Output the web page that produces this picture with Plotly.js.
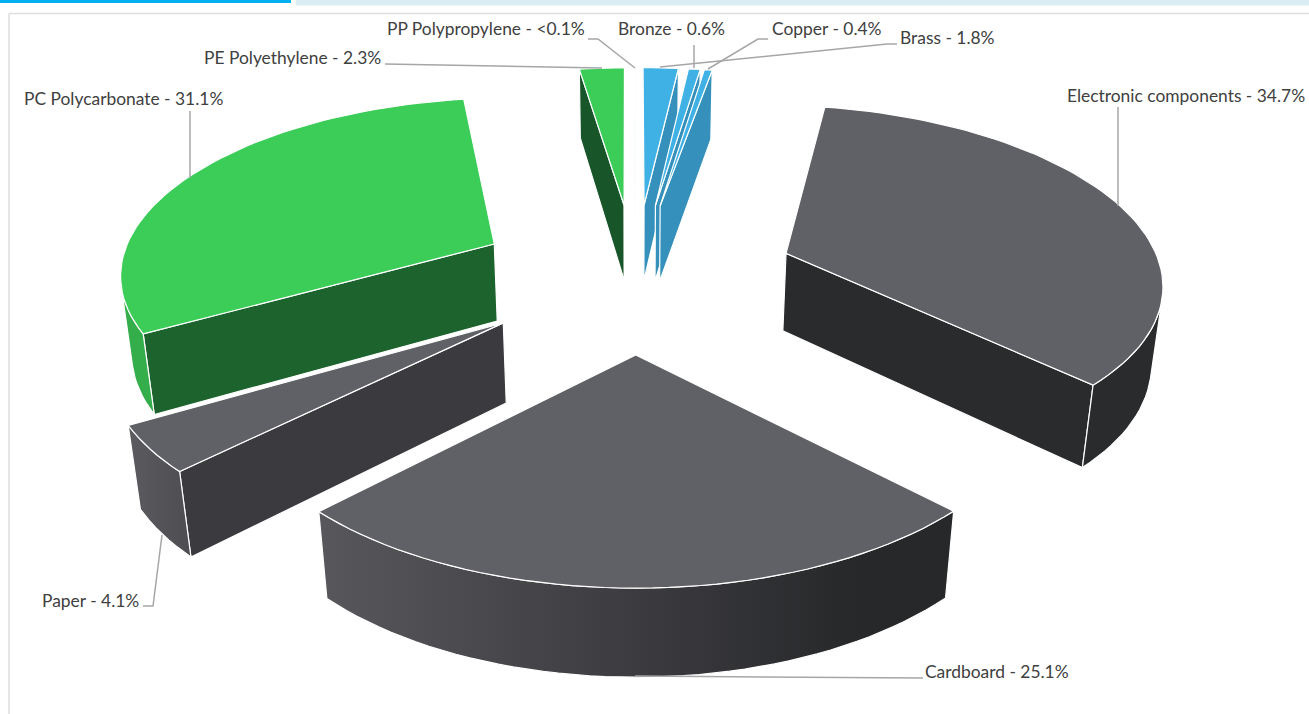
<!DOCTYPE html>
<html>
<head>
<meta charset="utf-8">
<script src="https://cdn.plot.ly/plotly-3.0.1.min.js"></script>
<style>html,body{margin:0;padding:0;background:#fff;overflow:hidden}#chart{width:1309px;height:714px}</style>
</head>
<body>
<div id="chart"></div>
<script>
// ---- data, clockwise from 12 o'clock ----
const materials = ["Brass","Bronze","Copper","Electronic components","Cardboard","Paper","PC Polycarbonate","PE Polyethylene","PP Polypropylene"];
const shares    = [1.8,0.6,0.4,34.7,25.1,4.1,31.1,2.3,0.05];
const shareText = ["1.8%","0.6%","0.4%","34.7%","25.1%","4.1%","31.1%","2.3%","<0.1%"];
const families  = ["metal","metal","metal","dark","dark","paper","plastic","plastic","plastic"];

// ---- style ----
const palette = {
  metal:  {top:"#40b1e5", radial:"#3590bb", arc:"#3590bb"},
  dark:   {top:"#606166", radial:"#2a2b2d", arc:"#2a2b2d"},
  paper:  {top:"#606166", radial:"#3b3a3f", arc:"#55555a"},
  plastic:{top:"#3ccd59", radial:"#1c632d", arc:"#34ad4b"}
};
const faceOverrides = {
  "Cardboard":{arcGradient:{stops:[[0,"#58585c"],[0.5,"#3c3c40"],[0.85,"#27282a"],[1,"#27282a"]],start:318,stop:951}},
  "Paper":{arcGradient:{stops:[[0,"#5a5a5f"],[1,"#4d4d52"]],start:130,stop:190}},
  "PE Polyethylene":{radial:"#18562a"}
};

// ---- label placement (left edge, centre y) and leader paths ----
const labelX = [900,618,772,1067,925,42,24,204,387];
const labelY = [37,28,28,95,671,600,98,57,28];
const leaderX = [[897,887,660],[694,694],[768,758,708],[1118,1118],[923,635],[143,153,162],[190,190],[385,602],[588,598,635]];
const leaderY = [[44,44,67],[45,68],[39,39,69],[107,206],[678,676],[606,606,535],[111,178],[64,68],[39,39,68]];

// ---- projection of the tilted 3-D pie ----
const view = {cx:635.5, y0:275.5, a:376.5, b:175, k:0.141, drop:80, dropW:0.022, explode:0.427, steps:90};
function project(X, Y, lower){
  const w = 1 + view.k*Y + (lower ? view.dropW : 0);
  return [view.cx + view.a*X/w, view.y0 + (-view.b*Y + (lower ? view.drop : 0))/w];
}
function signedArea(p){
  let s = 0;
  for(let i=0;i<p.length;i++){const q=p[(i+1)%p.length]; s += p[i][0]*q[1]-q[0]*p[i][1];}
  return s;
}
const total = shares.reduce((s,v)=>s+v,0);
let cumulative = 0;
const slices = materials.map((name,i)=>{
  const a0 = cumulative/total*2*Math.PI;
  cumulative += shares[i];
  const a1 = cumulative/total*2*Math.PI;
  const mid = (a0+a1)/2;
  const ox = view.explode*Math.sin(mid), oy = view.explode*Math.cos(mid);
  const n = Math.max(2, Math.ceil((a1-a0)/(2*Math.PI)*view.steps*2));
  const rim = [];
  for(let j=0;j<=n;j++){const t=a0+(a1-a0)*j/n; rim.push([ox+Math.sin(t), oy+Math.cos(t)]);}
  return {name,fam:families[i],apex:[ox,oy],rim,mid};
});

const traces = [];
function face(points,color,extra){
  const t = {
    type:"scatter",mode:"lines",x:points.map(p=>p[0]).concat(points[0][0]),y:points.map(p=>p[1]).concat(points[0][1]),
    fill:"toself",fillcolor:color,line:{color:"#ffffff",width:1.2},hoverinfo:"skip",showlegend:false
  };
  if(extra) t.fillgradient = {type:"horizontal",colorscale:extra.stops,start:extra.start,stop:extra.stop};
  traces.push(t);
}
function wall(g0,g1){ // quad for one ground segment
  return [project(g0[0],g0[1],false),project(g1[0],g1[1],false),project(g1[0],g1[1],true),project(g0[0],g0[1],true)];
}
// far slices first
slices.slice().sort((p,q)=>Math.cos(q.mid)-Math.cos(p.mid)).forEach(s=>{
  const pal = palette[s.fam], ov = faceOverrides[s.name]||{};
  const radial = ov.radial||pal.radial;
  const first = s.rim[0], last = s.rim[s.rim.length-1];
  const q0 = wall(s.apex,first), q1 = wall(last,s.apex);
  if(signedArea(q0)<0) face(q0,radial);
  if(signedArea(q1)<0) face(q1,radial);
  // curved wall: only the run of segments that faces the viewer
  let run = [];
  const flush = ()=>{
    if(run.length>1){
      const up = run.map(g=>project(g[0],g[1],false));
      const lo = run.map(g=>project(g[0],g[1],true)).reverse();
      face(up.concat(lo),pal.arc,ov.arcGradient);
    }
    run = [];
  };
  for(let j=0;j<s.rim.length-1;j++){
    if(signedArea(wall(s.rim[j],s.rim[j+1]))<0){
      if(!run.length) run.push(s.rim[j]);
      run.push(s.rim[j+1]);
    } else flush();
  }
  flush();
  face([s.apex].concat(s.rim).map(g=>project(g[0],g[1],false)),pal.top);
});

// leaders
materials.forEach((m,i)=>traces.push({type:"scatter",mode:"lines",x:leaderX[i],y:leaderY[i],
  line:{color:"#a6a6a6",width:1.5},hoverinfo:"skip",showlegend:false}));

const annotations = materials.map((m,i)=>({
  text:m+" - "+shareText[i],x:labelX[i],y:labelY[i],xref:"x",yref:"y",xanchor:"left",yanchor:"middle",
  xshift:-2,showarrow:false,font:{family:"Lato, sans-serif",size:17.4,color:"#404040"}
}));

const layout = {
  width:1309,height:714,margin:{l:0,r:0,t:0,b:0},paper_bgcolor:"#ffffff",plot_bgcolor:"#ffffff",showlegend:false,
  xaxis:{range:[0,1309],visible:false,fixedrange:true},
  yaxis:{range:[714,0],visible:false,fixedrange:true},
  annotations,
  shapes:[
    {type:"rect",xref:"x",yref:"y",x0:0,x1:291,y0:0,y1:3,fillcolor:"#00b0f0",line:{width:0},layer:"below"},
    {type:"rect",xref:"x",yref:"y",x0:296,x1:1309,y0:0,y1:5.5,fillcolor:"#daedf4",line:{width:0},layer:"below"},
    {type:"line",xref:"x",yref:"y",x0:9,x1:1309,y0:13.5,y1:13.5,line:{color:"#dedede",width:1.5},layer:"below"},
    {type:"line",xref:"x",yref:"y",x0:9,x1:9,y0:13.5,y1:714,line:{color:"#dedede",width:1.5},layer:"below"}
  ]
};
Plotly.newPlot("chart",traces,layout,{displayModeBar:false,staticPlot:true});
</script>
</body>
</html>
